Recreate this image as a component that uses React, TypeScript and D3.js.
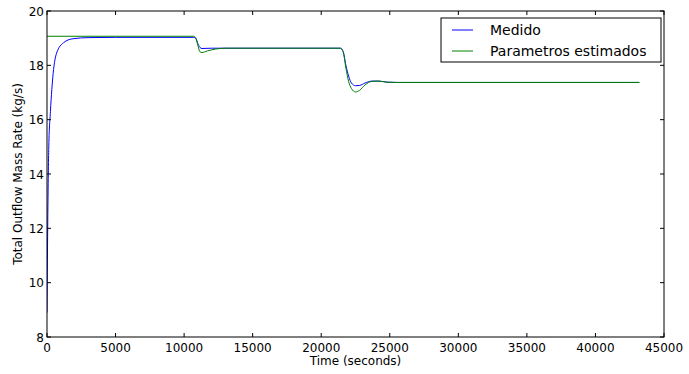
import { useEffect, useRef } from "react";
import * as d3 from "d3";

// Medido (blue)
const medidoTime = [0, 60, 130, 250, 450, 700, 1200, 1900, 3000, 5000, 10700, 10850, 11000, 11150, 11300, 12000, 21400, 21600, 21800, 22000, 22200, 22500, 22800, 23200, 23700, 24200, 24800, 25500, 43200];
const medidoValue = [8.9, 12.5, 15, 16.3, 17.7, 18.45, 18.83, 18.98, 19.02, 19.03, 19.03, 19.0, 18.8, 18.66, 18.62, 18.63, 18.63, 18.5, 18.0, 17.6, 17.35, 17.25, 17.26, 17.35, 17.42, 17.42, 17.38, 17.37, 17.37];

// Parametros estimados (green)
const estimTime = [0, 10700, 10850, 11000, 11150, 11300, 11700, 12300, 13000, 21400, 21600, 21800, 22000, 22200, 22500, 22800, 23200, 23700, 24200, 24800, 25500, 43200];
const estimValue = [19.07, 19.07, 19.0, 18.75, 18.5, 18.47, 18.53, 18.6, 18.63, 18.63, 18.5, 17.9, 17.4, 17.15, 17.02, 17.08, 17.28, 17.41, 17.42, 17.38, 17.37, 17.37];

const xTicks = [0, 5000, 10000, 15000, 20000, 25000, 30000, 35000, 40000, 45000];
const yTicks = [8, 10, 12, 14, 16, 18, 20];

const series = [
  { label: "Medido", color: "#0000ff", t: medidoTime, v: medidoValue },
  { label: "Parametros estimados", color: "#008000", t: estimTime, v: estimValue },
];

const App = () => {
  const svgRef = useRef<SVGSVGElement>(null);

  useEffect(() => {
    if (!svgRef.current) return;
    const width = 689;
    const height = 374;
    const margin = { top: 11, right: 25, bottom: 37, left: 47 };
    const w = width - margin.left - margin.right;
    const h = height - margin.top - margin.bottom;

    const root = d3.select(svgRef.current);
    root.selectAll("*").remove();
    root.attr("width", width).attr("height", height);
    root.append("rect").attr("width", width).attr("height", height).attr("fill", "white");

    const svg = root.append("g").attr("transform", `translate(${margin.left},${margin.top})`);
    const font = "DejaVu Sans, sans-serif";

    const x = d3.scaleLinear().domain([0, 45000]).range([0, w]);
    const y = d3.scaleLinear().domain([8, 20]).range([h, 0]);

    // Lines
    const clip = svg.append("clipPath").attr("id", "plotclip");
    clip.append("rect").attr("width", w).attr("height", h);
    series.forEach((s) => {
      const pts = s.t.map((t, i) => [t, s.v[i]] as [number, number]);
      const line = d3
        .line<[number, number]>()
        .x((d) => x(d[0]))
        .y((d) => y(d[1]))
        .curve(d3.curveMonotoneX);
      svg
        .append("path")
        .datum(pts)
        .attr("d", line)
        .attr("fill", "none")
        .attr("stroke", s.color)
        .attr("stroke-width", 1)
        .attr("clip-path", "url(#plotclip)");
    });

    // Frame
    svg
      .append("rect")
      .attr("width", w)
      .attr("height", h)
      .attr("fill", "none")
      .attr("stroke", "black")
      .attr("stroke-width", 1);

    // Ticks (inward, on all four sides)
    const tl = 4;
    xTicks.forEach((t) => {
      svg.append("line").attr("x1", x(t)).attr("x2", x(t)).attr("y1", h).attr("y2", h - tl).attr("stroke", "black");
      svg.append("line").attr("x1", x(t)).attr("x2", x(t)).attr("y1", 0).attr("y2", tl).attr("stroke", "black");
      svg
        .append("text")
        .attr("x", x(t))
        .attr("y", h + 15)
        .attr("text-anchor", "middle")
        .style("font-family", font)
        .style("font-size", "12px")
        .text(t);
    });
    yTicks.forEach((t) => {
      svg.append("line").attr("x1", 0).attr("x2", tl).attr("y1", y(t)).attr("y2", y(t)).attr("stroke", "black");
      svg.append("line").attr("x1", w).attr("x2", w - tl).attr("y1", y(t)).attr("y2", y(t)).attr("stroke", "black");
      svg
        .append("text")
        .attr("x", -3)
        .attr("y", y(t) + 4.5)
        .attr("text-anchor", "end")
        .style("font-family", font)
        .style("font-size", "12px")
        .text(t);
    });

    // Axis labels
    svg
      .append("text")
      .attr("x", w / 2)
      .attr("y", h + 28)
      .attr("text-anchor", "middle")
      .style("font-family", font)
      .style("font-size", "12px")
      .text("Time (seconds)");
    svg
      .append("text")
      .attr("transform", `translate(${-25},${h / 2}) rotate(-90)`)
      .attr("text-anchor", "middle")
      .style("font-family", font)
      .style("font-size", "12px")
      .text("Total Outflow Mass Rate (kg/s)");

    // Legend
    const legend = svg.append("g").attr("transform", `translate(${441 - margin.left},${18 - margin.top})`);
    legend
      .append("rect")
      .attr("width", 220)
      .attr("height", 44)
      .attr("fill", "white")
      .attr("stroke", "black")
      .attr("stroke-width", 1);
    series.forEach((s, i) => {
      const ly = 12 + i * 21;
      legend.append("line").attr("x1", 11).attr("x2", 32).attr("y1", ly).attr("y2", ly).attr("stroke", s.color);
      legend
        .append("text")
        .attr("x", 49)
        .attr("y", ly + 5)
        .style("font-family", font)
        .style("font-size", "14px")
        .text(s.label);
    });
  }, []);

  return <svg ref={svgRef} style={{ display: "block", position: "absolute", left: 0, top: 0 }} />;
};

export default App;
